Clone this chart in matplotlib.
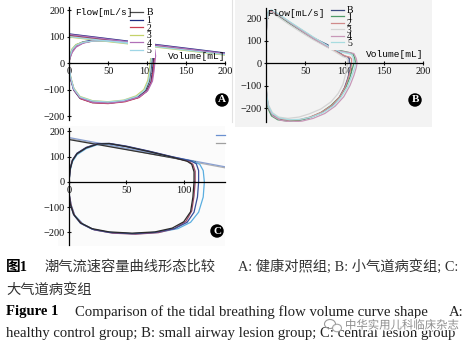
import matplotlib
matplotlib.use("Agg")
import matplotlib.pyplot as plt
from matplotlib.patches import Rectangle, Ellipse
from matplotlib.lines import Line2D
import matplotlib.patheffects as pe

W, H = 471, 349

# ---- panel A: healthy control group -------------------------------------
A_SERIES = ["B", "1", "2", "3", "4", "5"]
A_COLORS = ["#4a4a4a", "#1c2a80", "#c83c50", "#c5d26a", "#b070b8", "#9fd6e6"]
# inspiration limb (volume mL, flow mL/s)
A_INSP = [
    [(0, 0), (2, -55), (6, -98), (14, -130), (30, -146), (50, -150), (70, -143), (88, -128), (98, -105), (103, -70), (105, -30), (106, 0)],
    [(0, 0), (2, -60), (6, -102), (14, -133), (30, -149), (50, -152), (70, -145), (88, -131), (99, -108), (105, -72), (107, -30), (108, 0)],
    [(0, 0), (2, -58), (7, -104), (15, -135), (30, -150), (50, -153), (72, -146), (90, -130), (100, -106), (106, -70), (108, -30), (109, 0)],
    [(0, 0), (2, -50), (6, -94), (14, -126), (30, -142), (50, -146), (70, -140), (86, -124), (96, -100), (101, -66), (103, -28), (104, 0)],
    [(0, 0), (2, -56), (6, -100), (15, -132), (30, -148), (52, -151), (72, -144), (90, -128), (101, -104), (107, -68), (109, -30), (110, 0)],
    [(0, 0), (2, -52), (6, -96), (14, -128), (30, -143), (50, -147), (70, -141), (87, -126), (97, -102), (102, -68), (104, -30), (105, 0)],
]
# expiration limb
A_EXP = [
    [(106, 0), (107, 25), (106, 48), (102, 62), (90, 72), (75, 78), (60, 82), (45, 85), (30, 83), (18, 77), (9, 65), (4, 47), (1, 22), (0, 0)],
    [(108, 0), (109, 28), (108, 52), (104, 64), (90, 74), (75, 80), (60, 84), (45, 87), (30, 86), (18, 80), (9, 68), (4, 50), (1, 24), (0, 0)],
    [(109, 0), (110, 26), (109, 50), (105, 63), (90, 73), (75, 79), (60, 83), (45, 86), (30, 84), (18, 76), (9, 62), (4, 42), (1, 18), (0, 0)],
    [(104, 0), (105, 24), (104, 46), (100, 60), (88, 70), (75, 76), (60, 80), (45, 83), (30, 82), (18, 79), (9, 70), (4, 54), (1, 28), (0, 0)],
    [(110, 0), (111, 27), (110, 50), (106, 62), (92, 73), (75, 79), (60, 83), (45, 85), (30, 83), (18, 75), (9, 60), (4, 40), (1, 16), (0, 0)],
    [(105, 0), (106, 25), (105, 47), (101, 61), (89, 71), (75, 77), (60, 81), (45, 84), (30, 83), (18, 78), (9, 67), (4, 50), (1, 25), (0, 0)],
]
# slope lines drawn across the expiratory side
A_SLOPE = [((0, 105), (200, 35)), ((0, 110), (200, 38)), ((0, 102), (200, 33)),
           ((0, 98), (200, 30)), ((0, 108), (200, 36)), ((0, 100), (200, 32))]

# ---- panel B: small airway lesion group ---------------------------------
B_SERIES = ["B", "1", "2", "3", "4", "5"]
B_COLORS = ["#3c4a80", "#4f9a68", "#d08a8a", "#d4d4d4", "#c898b8", "#a8dce0"]
B_INSP = [
    [(0, 0), (0, -100), (1, -150), (3, -195), (7, -228), (15, -248), (28, -256), (42, -254), (55, -243), (70, -222), (83, -192), (93, -155), (100, -110), (104, -70), (107, -30), (108, 0)],
    [(0, 0), (0, -110), (1, -160), (3, -205), (7, -235), (15, -252), (28, -258), (42, -255), (55, -244), (70, -220), (83, -188), (94, -150), (102, -105), (107, -62), (110, -25), (112, 0)],
    [(0, 0), (0, -100), (1, -148), (3, -192), (8, -226), (16, -246), (28, -254), (42, -252), (56, -240), (71, -218), (84, -188), (94, -150), (101, -106), (105, -66), (108, -28), (109, 0)],
    [(0, 0), (0, -90), (1, -140), (3, -185), (8, -220), (16, -240), (28, -246), (42, -240), (55, -226), (70, -204), (83, -172), (92, -135), (98, -95), (101, -55), (103, -22), (104, 0)],
    [(0, 0), (0, -105), (1, -155), (4, -205), (9, -236), (18, -254), (32, -262), (46, -258), (60, -246), (75, -224), (88, -192), (99, -150), (107, -100), (112, -55), (115, -20), (116, 0)],
    [(0, 0), (0, -95), (1, -145), (3, -190), (8, -224), (17, -244), (30, -252), (44, -250), (58, -240), (73, -220), (86, -190), (96, -150), (104, -105), (109, -60), (113, -22), (114, 0)],
]
B_EXP = [
    [(106, 0), (106, 20), (104, 28), (100, 30), (92, 50), (78, 82), (60, 112), (45, 145), (30, 178), (15, 212), (7, 228), (3, 222), (1, 188), (0, 100), (0, 0)],
    [(114, 0), (113, 22), (111, 40), (107, 46), (95, 55), (78, 72), (60, 108), (45, 142), (30, 176), (15, 214), (7, 232), (3, 226), (1, 192), (0, 110), (0, 0)],
    [(109, 0), (109, 18), (107, 26), (102, 30), (92, 45), (78, 76), (60, 114), (45, 148), (30, 182), (15, 216), (7, 230), (3, 224), (1, 190), (0, 105), (0, 0)],
    [(104, 0), (104, 16), (102, 24), (98, 28), (90, 46), (78, 70), (60, 104), (45, 136), (30, 170), (15, 206), (7, 224), (3, 218), (1, 182), (0, 95), (0, 0)],
    [(116, 0), (115, 20), (112, 42), (108, 45), (96, 52), (78, 74), (60, 110), (45, 144), (30, 180), (15, 218), (7, 234), (3, 228), (1, 194), (0, 108), (0, 0)],
    [(112, 0), (111, 24), (109, 38), (105, 42), (94, 50), (78, 78), (60, 116), (45, 150), (30, 184), (15, 220), (7, 236), (3, 230), (1, 196), (0, 112), (0, 0)],
]

# ---- panel C: central lesion group --------------------------------------
C_COLORS = ["#5aaee0", "#a04a6a", "#3a4f9a", "#2a2a2a"]
C_INSP = [
    [(0, 0), (0, -45), (2, -92), (5, -132), (12, -166), (22, -190), (38, -202), (58, -206), (78, -200), (95, -185), (106, -160), (113, -120), (117, -60), (118, 0)],
    [(0, 0), (0, -45), (2, -95), (5, -135), (12, -168), (22, -190), (38, -203), (58, -207), (78, -201), (92, -185), (102, -156), (107, -115), (109, -55), (110, 0)],
    [(0, 0), (0, -40), (1, -88), (4, -130), (10, -164), (20, -187), (35, -200), (55, -205), (75, -200), (92, -185), (103, -160), (109, -120), (112, -60), (113, 0)],
    [(0, 0), (0, -40), (1, -85), (4, -128), (10, -162), (20, -185), (35, -198), (55, -203), (75, -198), (90, -183), (100, -158), (106, -118), (108, -60), (109, 0)],
]
C_EXP = [
    [(118, 0), (117, 45), (114, 70), (108, 82), (90, 98), (70, 120), (50, 140), (35, 150), (25, 148), (15, 132), (7, 108), (3, 80), (1, 45), (0, 0)],
    [(110, 0), (110, 42), (108, 70), (104, 82), (90, 99), (70, 121), (50, 141), (35, 152), (25, 151), (15, 136), (7, 113), (3, 86), (1, 52), (0, 0)],
    [(113, 0), (113, 45), (111, 72), (106, 84), (90, 100), (70, 122), (50, 142), (35, 153), (25, 152), (15, 137), (7, 114), (3, 87), (1, 53), (0, 0)],
    [(109, 0), (109, 40), (107, 70), (103, 82), (90, 98), (70, 120), (50, 140), (35, 152), (25, 150), (15, 135), (7, 112), (3, 85), (1, 50), (0, 0)],
]
C_SLOPE = [((0, 172), (136, 56)), ((0, 176), (136, 60)), ((0, 168), (110, 80))]
C_SLOPE_COLORS = ["#b0b0b0", "#8aa0d0", "#333333"]

# ---- caption ------------------------------------------------------------
CAP_ZH_HEAD = "图1"
CAP_ZH_TITLE = "潮气流速容量曲线形态比较"
CAP_ZH_GROUPS = "A: 健康对照组; B: 小气道病变组; C:"
CAP_ZH_TAIL = "大气道病变组"
CAP_EN_HEAD = "Figure 1"
CAP_EN_TITLE = "Comparison of the tidal breathing flow volume curve shape"
CAP_EN_GROUPS = "healthy control group; B: small airway lesion group; C: central lesion group"
WATERMARK = "中华实用儿科临床杂志"

plt.rcParams["font.family"] = ["Liberation Serif", "Noto Sans CJK SC"]
plt.rcParams["axes.unicode_minus"] = True

fig = plt.figure(figsize=(W / 100, H / 100), dpi=100)
fig.patch.set_facecolor("white")


def px_axes(left, top, right, bottom):
    ax = fig.add_axes([left / W, 1 - bottom / H, (right - left) / W, (bottom - top) / H])
    ax.set_zorder(2)
    return ax


def fig_xy(x, y):
    return x / W, 1 - y / H


def style_axes(ax, xlim, ylim, xticks, yticks):
    ax.set_xlim(*xlim)
    ax.set_ylim(*ylim)
    ax.patch.set_alpha(0)
    ax.spines["top"].set_visible(False)
    ax.spines["right"].set_visible(False)
    ax.spines["bottom"].set_position(("data", 0))
    ax.spines["left"].set_position(("data", 0))
    for s in ("bottom", "left"):
        ax.spines[s].set_linewidth(0.9)
        ax.spines[s].set_zorder(5)
    ax.set_xticks(xticks)
    ax.set_yticks(yticks)
    ax.tick_params(direction="inout", length=3, width=0.8, labelsize=7.5, pad=1.5, colors="#111111")


def draw_loop(ax, pts, color, lw=0.9):
    ax.plot([p[0] for p in pts], [p[1] for p in pts], color=color, lw=lw, solid_capstyle="round")


# panel backgrounds
fig.patches.append(Rectangle(fig_xy(235, 127), 197 / W, 127 / H, transform=fig.transFigure,
                             facecolor="#f3f3f3", edgecolor="none", zorder=-1))
fig.patches.append(Rectangle(fig_xy(58, 246), 167 / W, 120 / H, transform=fig.transFigure,
                             facecolor="#fbfbfb", edgecolor="none", zorder=-1))
fig.lines.append(Line2D([232 / W, 232 / W], [1 - 122 / H, 1.0], transform=fig.transFigure,
                        color="#e2e2e2", lw=0.8, zorder=-1))

# ---- A -------------------------------------------------------------------
axA = px_axes(69, 7.4, 225, 120)
style_axes(axA, (0, 200), (-215, 210), [0, 50, 100, 150, 200], [-200, -100, 0, 100, 200])
handles = []
for pts_i, pts_e, slope, c in zip(A_INSP, A_EXP, A_SLOPE, A_COLORS):
    draw_loop(axA, pts_i, c)
    draw_loop(axA, pts_e, c)
    h, = axA.plot([slope[0][0], slope[1][0]], [slope[0][1], slope[1][1]], color=c, lw=0.9)
    handles.append(h)
legA = axA.legend(handles, A_SERIES, loc="upper left", bbox_to_anchor=fig_xy(128, 6),
                  bbox_transform=fig.transFigure, fontsize=7, handlelength=1.3, handletextpad=0.35,
                  labelspacing=-0.15, borderpad=0.25, borderaxespad=0, frameon=True,
                  fancybox=False, framealpha=1, facecolor="white", edgecolor="none")
legA.set_zorder(6)
axA.text(0.04, 0.955, "Flow[mL/s]", transform=axA.transAxes, family="Liberation Mono",
         fontsize=6.8, va="center", ha="left", zorder=7)
axA.text(1.0, 0.565, "Volume[mL]", transform=axA.transAxes, family="Liberation Mono",
         fontsize=6.8, va="center", ha="right", zorder=7)

# ---- B -------------------------------------------------------------------
axB = px_axes(266, 7.9, 423, 122)
style_axes(axB, (0, 200), (-262, 245), [50, 100, 150, 200], [-200, -100, 0, 100, 200])
handles = []
for pts_i, pts_e, c in zip(B_INSP, B_EXP, B_COLORS):
    draw_loop(axB, pts_i, c)
    h, = axB.plot([p[0] for p in pts_e], [p[1] for p in pts_e], color=c, lw=0.9)
    handles.append(h)
legB = axB.legend(handles, B_SERIES, loc="upper left", bbox_to_anchor=fig_xy(329, 4),
                  bbox_transform=fig.transFigure, fontsize=7, handlelength=1.3, handletextpad=0.35,
                  labelspacing=-0.25, borderpad=0.2, borderaxespad=0, frameon=True,
                  fancybox=False, framealpha=1, facecolor="#f3f3f3", edgecolor="none")
legB.set_zorder(6)
axB.text(0.01, 0.955, "Flow[mL/s]", transform=axB.transAxes, family="Liberation Mono",
         fontsize=6.8, va="center", ha="left", zorder=7)
axB.text(1.0, 0.595, "Volume[mL]", transform=axB.transAxes, family="Liberation Mono",
         fontsize=6.8, va="center", ha="right", zorder=7)

# ---- C -------------------------------------------------------------------
axC = px_axes(69, 127.7, 225, 245)
style_axes(axC, (0, 136), (-250, 215), [0, 50, 100], [-200, -100, 0, 100, 200])
for slope, c in zip(C_SLOPE, C_SLOPE_COLORS):
    axC.plot([slope[0][0], slope[1][0]], [slope[0][1], slope[1][1]], color=c, lw=0.9)
for pts_i, pts_e, c in zip(C_INSP, C_EXP, C_COLORS):
    draw_loop(axC, pts_i, c)
    draw_loop(axC, pts_e, c)
# legend keys cut at the panel edge
axC.plot([0.94, 1.0], [0.94, 0.94], transform=axC.transAxes, color="#6a90d0", lw=0.9, clip_on=False)
axC.plot([0.94, 1.0], [0.87, 0.87], transform=axC.transAxes, color="#a0a0a0", lw=0.9, clip_on=False)

# panel letters
for letter, (x, y) in zip("ABC", [(222, 100), (415, 100), (217, 231)]):
    fig.text(*fig_xy(x, y), letter, ha="center", va="center", color="white", fontsize=8,
             fontweight="bold", zorder=8,
             bbox=dict(boxstyle="circle,pad=0.2", facecolor="black", edgecolor="none"))

# ---- caption ---------------------------------------------------------------
zh = ["Liberation Serif", "Noto Sans CJK SC"]
fig.text(*fig_xy(6, 267), CAP_ZH_HEAD, family=zh, fontsize=10.5, fontweight="bold", va="center")
fig.text(*fig_xy(45, 267), CAP_ZH_TITLE, family=zh, fontsize=10.3, color="#333333", va="center")
fig.text(*fig_xy(238, 267), CAP_ZH_GROUPS, family=zh, fontsize=10.3, color="#333333", va="center")
fig.text(*fig_xy(6, 290), CAP_ZH_TAIL, family=zh, fontsize=10.3, color="#333333", va="center")
fig.text(*fig_xy(6, 312), CAP_EN_HEAD, family=zh, fontsize=10.5, fontweight="bold", va="center")
fig.text(*fig_xy(75, 312), CAP_EN_TITLE, family=zh, fontsize=10.6, color="#222222", va="center")
fig.text(*fig_xy(464, 312), "A:", family=zh, fontsize=10.6, color="#222222", va="center", ha="right")
fig.text(*fig_xy(6, 334), CAP_EN_GROUPS, family=zh, fontsize=10.6, color="#222222", va="center")

# watermark
fig.patches.append(Ellipse(fig_xy(330, 324), 11 / W, 9 / H, transform=fig.transFigure,
                           facecolor="none", edgecolor="#9a9a9a", lw=0.8, zorder=9))
fig.patches.append(Ellipse(fig_xy(337, 328), 9 / W, 7.5 / H, transform=fig.transFigure,
                           facecolor="white", edgecolor="#9a9a9a", lw=0.8, alpha=0.9, zorder=9))
fig.text(*fig_xy(345, 325), WATERMARK, family="Noto Sans CJK SC", fontsize=8.2, color="#8c8c8c",
         va="center", zorder=10, path_effects=[pe.withStroke(linewidth=2, foreground="white")])

fig.savefig("out.png", dpi=100)
